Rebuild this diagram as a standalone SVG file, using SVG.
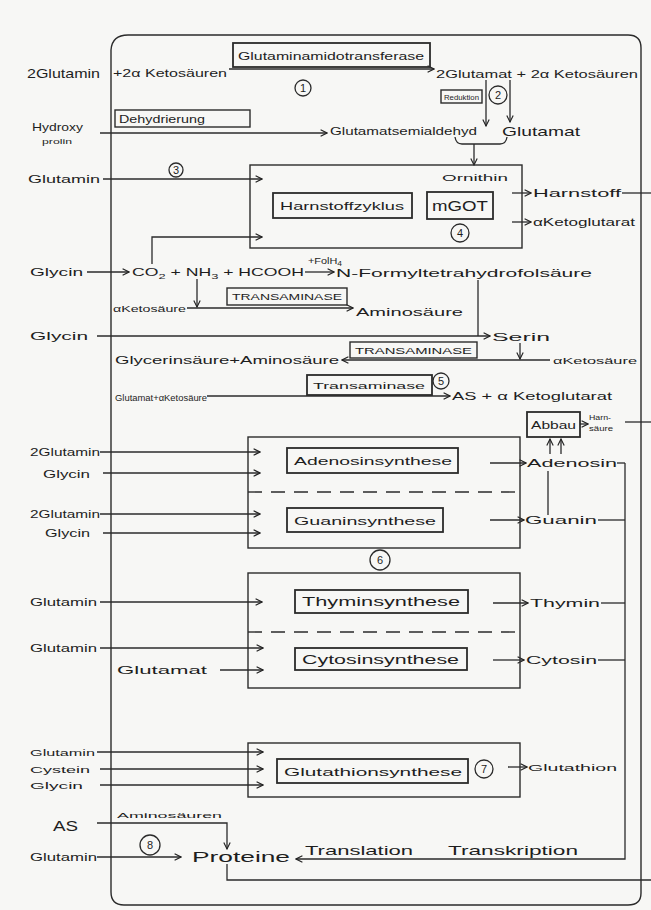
<svg xmlns="http://www.w3.org/2000/svg" width="651" height="910" viewBox="0 0 651 910">
<defs>
<marker id="ar" viewBox="0 0 10 10" refX="9" refY="5" markerWidth="8" markerHeight="8" markerUnits="userSpaceOnUse" orient="auto">
<path d="M1,1 L9,5 L1,9" fill="none" stroke="#222" stroke-width="1.4"/>
</marker>
<style>
.ln{fill:none;stroke:#2b2b2b;stroke-width:1.3}
.bx{fill:none;stroke:#2b2b2b;stroke-width:1.4}
.ib{fill:none;stroke:#2b2b2b;stroke-width:1.8}
.ds{fill:none;stroke:#2b2b2b;stroke-width:1.4;stroke-dasharray:14 9}
.c{fill:none;stroke:#2b2b2b;stroke-width:1.3}
text{font-family:"Liberation Sans",Arial,sans-serif;fill:#1e1e1e}
.t{font-size:11px}
.s{font-size:9px}
.xs{font-size:7px}
.l{font-size:13px}
.xl{font-size:15px}
.n{font-size:11px;text-anchor:middle}
</style>
</defs>
<rect x="0" y="0" width="651" height="910" fill="#f7f7f5"/>
<g id="frame"><path class="bx" d="M111,50 Q112,35 128,35 L628,35 Q641,35 641,48 L641,893 Q641,905 628,905 L124,905 Q111,905 111,892 Z"/></g>

<g id="connectors">
<line class="ln" x1="229" y1="69" x2="434" y2="69" marker-end="url(#ar)"/>
<line class="ln" x1="486" y1="80" x2="486" y2="126" marker-end="url(#ar)"/>
<line class="ln" x1="510" y1="80" x2="510" y2="122" marker-end="url(#ar)"/>
<line class="ln" x1="100" y1="133" x2="327" y2="133" marker-end="url(#ar)"/>
<path class="ln" d="M455,137 Q456,144 462,144 L500,144 Q506,144 507,137"/>
<line class="ln" x1="474" y1="144" x2="474" y2="165" marker-end="url(#ar)"/>
<line class="ln" x1="103" y1="179" x2="262" y2="179" marker-end="url(#ar)"/>
<path class="ln" d="M152,264 L152,237 L262,237" marker-end="url(#ar)"/>
<line class="ln" x1="512" y1="193" x2="531" y2="193" marker-end="url(#ar)"/>
<line class="ln" x1="622" y1="193" x2="651" y2="193"/>
<line class="ln" x1="512" y1="222" x2="531" y2="222" marker-end="url(#ar)"/>
<line class="ln" x1="87" y1="272" x2="129" y2="272" marker-end="url(#ar)"/>
<line class="ln" x1="305" y1="272" x2="334" y2="272" marker-end="url(#ar)"/>
<line class="ln" x1="197" y1="279" x2="197" y2="307" marker-end="url(#ar)"/>
<line class="ln" x1="187" y1="308" x2="353" y2="308" marker-end="url(#ar)"/>
<line class="ln" x1="478" y1="280" x2="478" y2="336"/>
<line class="ln" x1="97" y1="336" x2="490" y2="336" marker-end="url(#ar)"/>
<line class="ln" x1="550" y1="360" x2="342" y2="360" marker-end="url(#ar)"/>
<line class="ln" x1="520" y1="343" x2="520" y2="359" marker-end="url(#ar)"/>
<line class="ln" x1="207" y1="396" x2="450" y2="396" marker-end="url(#ar)"/>
<line class="ln" x1="580" y1="424" x2="588" y2="424" marker-end="url(#ar)"/>
<line class="ln" x1="625" y1="422" x2="651" y2="422"/>
<line class="ln" x1="550" y1="454" x2="550" y2="439" marker-end="url(#ar)"/>
<line class="ln" x1="561" y1="454" x2="561" y2="439" marker-end="url(#ar)"/>
<line class="ln" x1="100" y1="452" x2="260" y2="452" marker-end="url(#ar)"/>
<line class="ln" x1="103" y1="473" x2="260" y2="473" marker-end="url(#ar)"/>
<line class="ln" x1="100" y1="514" x2="260" y2="514" marker-end="url(#ar)"/>
<line class="ln" x1="103" y1="533" x2="260" y2="533" marker-end="url(#ar)"/>
<line class="ln" x1="490" y1="463" x2="526" y2="463" marker-end="url(#ar)"/>
<line class="ln" x1="490" y1="520" x2="524" y2="520" marker-end="url(#ar)"/>
<line class="ln" x1="548" y1="471" x2="548" y2="515"/>
<line class="ln" x1="617" y1="463" x2="625" y2="463"/>
<line class="ln" x1="598" y1="520" x2="625" y2="520"/>
<line class="ln" x1="100" y1="602" x2="262" y2="602" marker-end="url(#ar)"/>
<line class="ln" x1="100" y1="648" x2="263" y2="648" marker-end="url(#ar)"/>
<line class="ln" x1="220" y1="670" x2="263" y2="670" marker-end="url(#ar)"/>
<line class="ln" x1="493" y1="603" x2="528" y2="603" marker-end="url(#ar)"/>
<line class="ln" x1="601" y1="603" x2="625" y2="603"/>
<line class="ln" x1="493" y1="660" x2="524" y2="660" marker-end="url(#ar)"/>
<line class="ln" x1="598" y1="660" x2="625" y2="660"/>
<line class="ln" x1="97" y1="752" x2="263" y2="752" marker-end="url(#ar)"/>
<line class="ln" x1="100" y1="769" x2="263" y2="769" marker-end="url(#ar)"/>
<line class="ln" x1="100" y1="785" x2="263" y2="785" marker-end="url(#ar)"/>
<line class="ln" x1="508" y1="767" x2="527" y2="767" marker-end="url(#ar)"/>
<path class="ln" d="M625,463 L625,859 L296,859" marker-end="url(#ar)"/>
<path class="ln" d="M97,823 L227,823 L227,849" marker-end="url(#ar)"/>
<line class="ln" x1="97" y1="857" x2="181" y2="857" marker-end="url(#ar)"/>
<path class="ln" d="M227,864 L227,880 L651,880"/>
</g>

<g id="top-row">
<text class="l" x="27" y="78" textLength="73" lengthAdjust="spacingAndGlyphs">2Glutamin</text>
<text class="t" x="113" y="77" textLength="114" lengthAdjust="spacingAndGlyphs">+2α Ketosäuren</text>
<text class="t" x="436" y="78" textLength="202" lengthAdjust="spacingAndGlyphs">2Glutamat + 2α Ketosäuren</text>
</g>
<g id="glutaminamidotransferase">
<rect class="ib" x="233" y="43" width="197" height="24"/>
<text class="t" x="238" y="60" textLength="186" lengthAdjust="spacingAndGlyphs">Glutaminamidotransferase</text>
<circle class="c" cx="303" cy="88" r="8"/><text class="n" x="303" y="92">1</text>
</g>
<g id="reduktion">
<rect class="bx" x="441" y="90" width="41" height="13"/>
<text class="xs" x="444" y="100" textLength="35" lengthAdjust="spacingAndGlyphs">Reduktion</text>
<circle class="c" cx="498" cy="95" r="9"/><text class="n" x="498" y="99">2</text>
</g>
<g id="dehydrierung">
<rect class="bx" x="115" y="110" width="135" height="17"/>
<text class="t" x="119" y="123" textLength="86" lengthAdjust="spacingAndGlyphs">Dehydrierung</text>
</g>
<g id="hydroxyprolin">
<text class="t" x="32" y="131" textLength="51" lengthAdjust="spacingAndGlyphs">Hydroxy</text>
<text class="xs" x="42" y="144" textLength="30" lengthAdjust="spacingAndGlyphs">prolin</text>
</g>
<g id="glutamatsemialdehyd">
<text class="t" x="330" y="135" textLength="147" lengthAdjust="spacingAndGlyphs">Glutamatsemialdehyd</text>
</g>
<g id="glutamat-top"><text class="l" x="502" y="136" textLength="78" lengthAdjust="spacingAndGlyphs">Glutamat</text></g>

<g id="glutamin-3">
<text class="t" x="28" y="183" textLength="72" lengthAdjust="spacingAndGlyphs">Glutamin</text>
<circle class="c" cx="176" cy="170" r="7"/><text class="n" x="176" y="174">3</text>
</g>
<g id="harnstoffzyklus">
<rect class="bx" x="250" y="165" width="272" height="83"/>
<rect class="ib" x="273" y="193" width="139" height="25"/>
<text class="t" x="280" y="210" textLength="124" lengthAdjust="spacingAndGlyphs">Harnstoffzyklus</text>
<rect class="ib" x="427" y="192" width="66" height="27"/>
<text class="xl" x="432" y="211" textLength="56" lengthAdjust="spacingAndGlyphs">mGOT</text>
<text class="s" x="442" y="181" textLength="66" lengthAdjust="spacingAndGlyphs">Ornithin</text>
<circle class="c" cx="460" cy="233" r="9"/><text class="n" x="460" y="237">4</text>
</g>
<g id="harnstoff"><text class="t" x="533" y="197" textLength="88" lengthAdjust="spacingAndGlyphs">Harnstoff</text></g>
<g id="ketoglutarat"><text class="t" x="533" y="226" textLength="102" lengthAdjust="spacingAndGlyphs">αKetoglutarat</text></g>

<g id="glycin-1"><text class="t" x="30" y="276" textLength="53" lengthAdjust="spacingAndGlyphs">Glycin</text></g>
<g id="co2-row">
<text class="t" x="132" y="276" textLength="172" lengthAdjust="spacingAndGlyphs">CO<tspan font-size="8" dy="3">2</tspan><tspan dy="-3"> + NH</tspan><tspan font-size="8" dy="3">3</tspan><tspan dy="-3"> + HCOOH</tspan></text>
<text class="s" x="308" y="264" textLength="34" lengthAdjust="spacingAndGlyphs">+FolH<tspan font-size="7" dy="2">4</tspan></text>
</g>
<g id="n-formyl"><text class="t" x="336" y="277" textLength="256" lengthAdjust="spacingAndGlyphs">N-Formyltetrahydrofolsäure</text></g>
<g id="ketosaeure-1"><text class="s" x="113" y="312" textLength="73" lengthAdjust="spacingAndGlyphs">αKetosäure</text></g>
<g id="transaminase-1">
<rect class="bx" x="227" y="288" width="120" height="17"/>
<text class="s" x="232" y="300" textLength="110" lengthAdjust="spacingAndGlyphs">TRANSAMINASE</text>
</g>
<g id="aminosaeure"><text class="t" x="356" y="316" textLength="107" lengthAdjust="spacingAndGlyphs">Aminosäure</text></g>
<g id="glycin-2"><text class="t" x="30" y="340" textLength="58" lengthAdjust="spacingAndGlyphs">Glycin</text></g>
<g id="serin"><text class="t" x="492" y="341" textLength="58" lengthAdjust="spacingAndGlyphs">Serin</text></g>
<g id="glycerinsaeure"><text class="t" x="115" y="364" textLength="224" lengthAdjust="spacingAndGlyphs">Glycerinsäure+Aminosäure</text></g>
<g id="transaminase-2">
<rect class="bx" x="350" y="342" width="127" height="16"/>
<text class="s" x="355" y="354" textLength="117" lengthAdjust="spacingAndGlyphs">TRANSAMINASE</text>
</g>
<g id="ketosaeure-2"><text class="s" x="553" y="364" textLength="84" lengthAdjust="spacingAndGlyphs">αKetosäure</text></g>
<g id="glutamat-ketosaeure"><text class="s" x="115" y="401" textLength="92" lengthAdjust="spacingAndGlyphs">Glutamat+αKetosäure</text></g>
<g id="transaminase-5">
<rect class="ib" x="307" y="375" width="125" height="20"/>
<text class="s" x="313" y="389" textLength="112" lengthAdjust="spacingAndGlyphs">Transaminase</text>
<circle class="c" cx="441" cy="381" r="8"/><text class="n" x="441" y="385">5</text>
</g>
<g id="as-ketoglutarat"><text class="t" x="452" y="400" textLength="160" lengthAdjust="spacingAndGlyphs">AS + α Ketoglutarat</text></g>
<g id="abbau">
<rect class="ib" x="527" y="412" width="53" height="25"/>
<text class="t" x="531" y="429" textLength="45" lengthAdjust="spacingAndGlyphs">Abbau</text>
<text class="xs" x="589" y="420" textLength="22" lengthAdjust="spacingAndGlyphs">Harn-</text>
<text class="xs" x="589" y="431" textLength="24" lengthAdjust="spacingAndGlyphs">säure</text>
</g>

<g id="purin-synthese">
<rect class="bx" x="248" y="437" width="272" height="111"/>
<line class="ds" x1="248" y1="492" x2="520" y2="492"/>
<rect class="ib" x="287" y="448" width="171" height="25"/>
<text class="t" x="294" y="465" textLength="158" lengthAdjust="spacingAndGlyphs">Adenosinsynthese</text>
<rect class="ib" x="287" y="508" width="156" height="24"/>
<text class="t" x="294" y="525" textLength="142" lengthAdjust="spacingAndGlyphs">Guaninsynthese</text>
<circle class="c" cx="380" cy="560" r="10"/><text class="n" x="380" y="564">6</text>
</g>
<g id="in-purin">
<text class="t" x="30" y="456" textLength="70" lengthAdjust="spacingAndGlyphs">2Glutamin</text>
<text class="t" x="43" y="478" textLength="47" lengthAdjust="spacingAndGlyphs">Glycin</text>
<text class="t" x="30" y="518" textLength="70" lengthAdjust="spacingAndGlyphs">2Glutamin</text>
<text class="t" x="45" y="537" textLength="45" lengthAdjust="spacingAndGlyphs">Glycin</text>
</g>
<g id="adenosin"><text class="t" x="527" y="467" textLength="90" lengthAdjust="spacingAndGlyphs">Adenosin</text></g>
<g id="guanin"><text class="t" x="525" y="524" textLength="72" lengthAdjust="spacingAndGlyphs">Guanin</text></g>

<g id="pyrimidin-synthese">
<rect class="bx" x="248" y="573" width="272" height="115"/>
<line class="ds" x1="248" y1="632" x2="520" y2="632"/>
<rect class="ib" x="295" y="590" width="173" height="23"/>
<text class="l" x="302" y="606" textLength="158" lengthAdjust="spacingAndGlyphs">Thyminsynthese</text>
<rect class="ib" x="295" y="648" width="172" height="22"/>
<text class="l" x="302" y="664" textLength="157" lengthAdjust="spacingAndGlyphs">Cytosinsynthese</text>
</g>
<g id="in-pyrimidin">
<text class="t" x="30" y="606" textLength="67" lengthAdjust="spacingAndGlyphs">Glutamin</text>
<text class="t" x="30" y="652" textLength="67" lengthAdjust="spacingAndGlyphs">Glutamin</text>
<text class="t" x="117" y="674" textLength="90" lengthAdjust="spacingAndGlyphs">Glutamat</text>
</g>
<g id="thymin"><text class="t" x="530" y="607" textLength="70" lengthAdjust="spacingAndGlyphs">Thymin</text></g>
<g id="cytosin"><text class="t" x="526" y="664" textLength="71" lengthAdjust="spacingAndGlyphs">Cytosin</text></g>

<g id="glutathionsynthese">
<rect class="bx" x="248" y="743" width="272" height="54"/>
<rect class="ib" x="277" y="759" width="191" height="24"/>
<text class="t" x="284" y="776" textLength="178" lengthAdjust="spacingAndGlyphs">Glutathionsynthese</text>
<circle class="c" cx="484" cy="769" r="9"/><text class="n" x="484" y="773">7</text>
</g>
<g id="in-glutathion">
<text class="s" x="30" y="756" textLength="65" lengthAdjust="spacingAndGlyphs">Glutamin</text>
<text class="s" x="30" y="773" textLength="60" lengthAdjust="spacingAndGlyphs">Cystein</text>
<text class="s" x="30" y="789" textLength="53" lengthAdjust="spacingAndGlyphs">Glycin</text>
</g>
<g id="glutathion"><text class="s" x="528" y="771" textLength="89" lengthAdjust="spacingAndGlyphs">Glutathion</text></g>

<g id="proteine">
<text class="xl" x="53" y="831" textLength="25" lengthAdjust="spacingAndGlyphs">AS</text>
<text class="xs" x="117" y="818" textLength="105" lengthAdjust="spacingAndGlyphs">Aminosäuren</text>
<text class="t" x="30" y="861" textLength="67" lengthAdjust="spacingAndGlyphs">Glutamin</text>
<circle class="c" cx="150" cy="845" r="10"/><text class="n" x="150" y="849">8</text>
<text class="xl" x="192" y="862" textLength="98" lengthAdjust="spacingAndGlyphs">Proteine</text>
<text class="l" x="305" y="855" textLength="108" lengthAdjust="spacingAndGlyphs">Translation</text>
<text class="l" x="448" y="855" textLength="130" lengthAdjust="spacingAndGlyphs">Transkription</text>
</g>
</svg>
